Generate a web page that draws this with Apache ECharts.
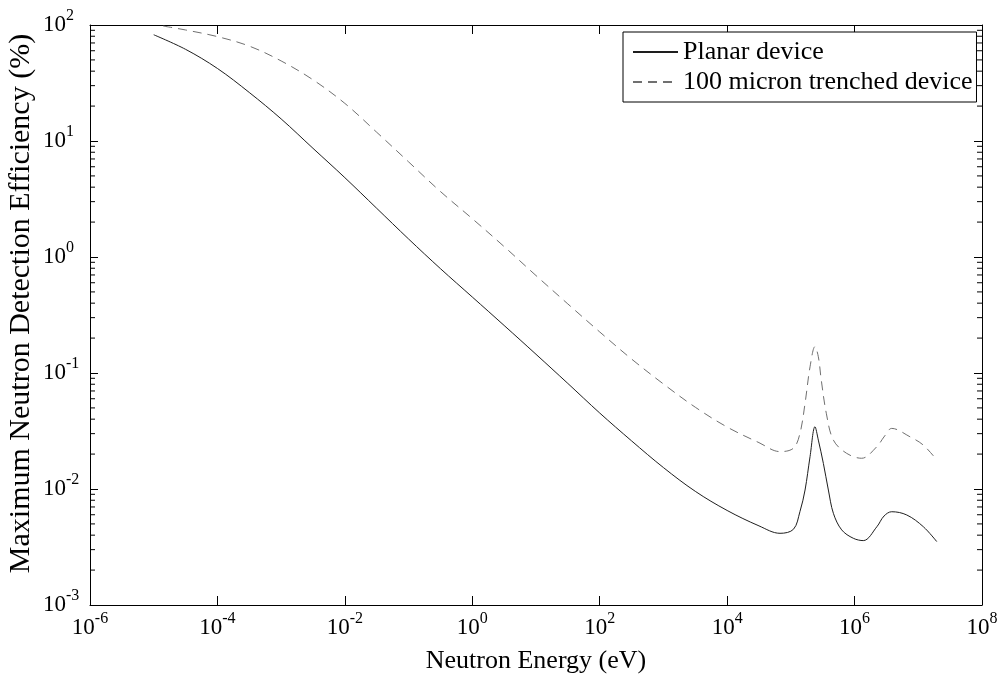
<!DOCTYPE html>
<html>
<head>
<meta charset="utf-8">
<title>Maximum Neutron Detection Efficiency</title>
<script src="https://cdn.jsdelivr.net/npm/echarts@6/dist/echarts.min.js"></script>
<style>
    html, body { margin: 0; padding: 0; background: #fff; }
    #chart { width: 1005px; height: 675px; }
</style>
</head>
<body>
<div id="chart"></div>
<script>
// values (energy in eV, efficiency in %)
var planarEnergy = [1e-5, 3.16e-5, 1e-4, 3.16e-4, 1e-3, 3.16e-3, 0.01, 0.0316, 0.1, 0.316, 1, 3.16, 10, 31.6,
    100, 316, 1000, 3162, 1e4, 3.16e4, 6.76e4, 1.1e5, 1.39e5, 1.67e5, 2.0e5, 2.39e5, 2.7e5, 3.24e5, 3.88e5,
    4.65e5, 6.28e5, 9.55e5, 1.37e6, 2.24e6, 2.9e6, 3.83e6, 6.6e6, 1.2e7, 1.95e7];
var planarEff = [82.4, 61.7, 42.2, 26.2, 15.5, 8.65, 4.83, 2.63, 1.43, 0.794, 0.452, 0.257, 0.145, 0.0813,
    0.0452, 0.026, 0.0153, 0.00955, 0.00653, 0.00481, 0.00415, 0.0045, 0.0064, 0.0098, 0.019, 0.0344, 0.0264, 0.0166, 0.0098,
    0.00617, 0.00444, 0.00376, 0.00359, 0.00473, 0.00585, 0.00637, 0.00597, 0.00473, 0.00352];

var trenchEnergy = [1.41e-5, 3.16e-5, 1e-4, 3.16e-4, 1e-3, 3.16e-3, 0.01, 0.0316, 0.1, 0.316, 1, 3.16, 10, 31.6,
    100, 316, 1000, 3162, 1e4, 3.16e4, 6.76e4, 1.1e5, 1.39e5, 1.67e5, 2.0e5, 2.39e5, 2.7e5, 3.0e5, 3.6e5,
    4.65e5, 7.5e5, 1.29e6, 2.24e6, 2.96e6, 3.83e6, 7.4e6, 1.2e7, 1.95e7];
var trenchEff = [97.9, 90.6, 79.4, 65.8, 49.0, 33.7, 21.1, 11.9, 6.61, 3.67, 2.14, 1.23, 0.692, 0.394,
    0.226, 0.132, 0.0804, 0.0507, 0.0342, 0.0251, 0.021, 0.0225, 0.0302, 0.0548, 0.113, 0.169, 0.138, 0.087, 0.045,
    0.0264, 0.0203, 0.0184, 0.0232, 0.0286, 0.0333, 0.0282, 0.0239, 0.0178];

var xTicks = [1e-6, 1e-4, 1e-2, 1, 1e2, 1e4, 1e6, 1e8];
var yTicks = [1e-3, 1e-2, 1e-1, 1, 10, 100];

// minor ticks 2..9 inside each decade
var yMinorTicks = [];
yTicks.slice(0, -1).forEach(function (d) {
    for (var k = 2; k <= 9; k++) yMinorTicks.push(k * d);
});

var serif = 'Liberation Serif';

function pairs(xs, ys) {
    return xs.map(function (x, i) { return [x, ys[i]]; });
}

function powLabel(v) {
    var e = Math.round(Math.log(v) / Math.LN10);
    return '{b|10}{s|' + e + '}';
}

var labelRich = {
    b: { fontFamily: serif, fontSize: 23, color: '#000' },
    s: { fontFamily: serif, fontSize: 16, color: '#000', padding: [0, 0, 18, 0] }
};

var black = { color: '#000', width: 1 };

function xAxisOf(pos, withLabels) {
    return {
        type: 'log', logBase: 10, min: 1e-6, max: 1e8, position: pos,
        axisLine: { show: true, onZero: false, lineStyle: black },
        axisTick: { show: true, inside: true, length: 9, customValues: xTicks, lineStyle: black },
        axisLabel: { show: withLabels, customValues: xTicks, formatter: powLabel, rich: labelRich, margin: 6 },
        splitLine: { show: false },
        minorTick: { show: false },
        name: withLabels ? 'Neutron Energy (eV)' : '',
        nameLocation: 'middle',
        nameGap: 43,
        nameMoveOverlap: false,
        nameTextStyle: { fontFamily: serif, fontSize: 26, color: '#000' }
    };
}

function yAxisOf(pos, withLabels) {
    return {
        type: 'log', logBase: 10, min: 1e-3, max: 1e2, position: pos,
        axisLine: { show: true, onZero: false, lineStyle: black },
        axisTick: { show: true, inside: true, length: 8, customValues: yTicks, lineStyle: black },
        axisLabel: { show: withLabels, customValues: yTicks, formatter: powLabel, rich: labelRich, margin: 47, align: 'left' },
        splitLine: { show: false },
        minorTick: { show: false },
        name: withLabels ? 'Maximum Neutron Detection Efficiency (%)' : '',
        nameLocation: 'middle',
        nameGap: 54,
        nameMoveOverlap: false,
        nameTextStyle: { fontFamily: serif, fontSize: 30, color: '#000', padding: [0, 0, 0, 23] }
    };
}

var chart = echarts.init(document.getElementById('chart'));

var option = {
    animation: false,
    backgroundColor: '#fff',
    grid: { left: 90, right: 23, top: 25, bottom: 70, outerBoundsMode: 'none' },
    legend: {
        orient: 'vertical',
        left: 623,
        top: 32,
        itemWidth: 45,
        itemHeight: 12,
        itemGap: 4,
        padding: [7, 4, 7, 9],
        borderColor: '#000',
        borderWidth: 1,
        backgroundColor: '#fff',
        itemStyle: { opacity: 0 },
        textStyle: { fontFamily: serif, fontSize: 26, color: '#000' },
        data: ['Planar device', '100 micron trenched device']
    },
    xAxis: [xAxisOf('bottom', true), xAxisOf('top', false)],
    yAxis: [yAxisOf('left', true), yAxisOf('right', false)],
    series: [
        {
            name: 'Planar device',
            type: 'line',
            data: pairs(planarEnergy, planarEff),
            symbol: 'none',
            smooth: 0.35,
            lineStyle: { color: '#1e1e1e', width: 1 },
            itemStyle: { color: '#1e1e1e' }
        },
        {
            name: '100 micron trenched device',
            type: 'line',
            data: pairs(trenchEnergy, trenchEff),
            symbol: 'none',
            smooth: 0.35,
            lineStyle: { color: '#707070', width: 1, type: [9, 6] },
            itemStyle: { color: '#707070' }
        },
        {
            // short minor ticks on both vertical frame edges
            name: 'minor ticks',
            type: 'custom',
            silent: true,
            clip: false,
            data: yMinorTicks.map(function (v) { return [1e-6, v]; }),
            renderItem: function (params, api) {
                var l = api.coord([1e-6, api.value(1)]);
                var r = api.coord([1e8, api.value(1)]);
                var st = { stroke: '#000', lineWidth: 1 };
                return {
                    type: 'group',
                    children: [
                        { type: 'line', shape: { x1: l[0], y1: l[1], x2: l[0] + 5, y2: l[1] }, style: st },
                        { type: 'line', shape: { x1: r[0], y1: r[1], x2: r[0] - 5, y2: r[1] }, style: st }
                    ]
                };
            }
        }
    ]
};

chart.setOption(option);
</script>
</body>
</html>
